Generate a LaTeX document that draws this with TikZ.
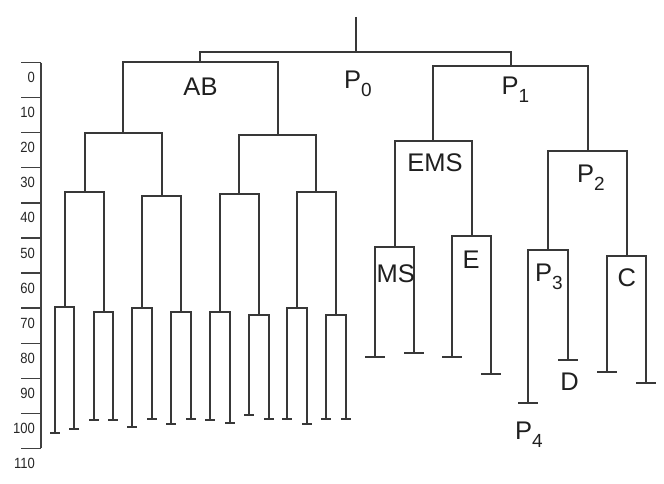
\documentclass[tikz,border=0pt]{standalone}
\usepackage{fontspec}
\setmainfont{Liberation Sans}
% lowered index after a cluster letter, e.g. P with a small 0 below the baseline
\newcommand{\lowsub}[1]{\raisebox{-8pt}{\fontsize{19}{20}\selectfont #1}}
% one merge: bar at the parent's height joining the two child stems
\newcommand{\merge}[3]{\draw[branch] (#2) -- (#2 |- #1) -- (#3 |- #1) -- (#3);}
% slightly narrowed digits for the scale
\newcommand{\narrow}[1]{\scalebox{0.88}[1]{#1}}
\begin{document}
\begin{tikzpicture}[x=1pt,y=-1pt,
  branch/.style={draw=black!78, line width=1.2pt},
  axisline/.style={draw=black!75, line width=1.2pt},
  lbl/.style={inner sep=0pt, font=\fontsize{25.5}{28}\selectfont, text=black!88},
  ticklabel/.style={inner sep=0pt, anchor=east, font=\fontsize{14.8}{16}\selectfont, text=black!85}]
\useasboundingbox (0,0) rectangle (664,484);

% ---- distance scale ----
\draw[axisline] (41,62.7) -- (41,448.3);
\foreach \k in {0,...,11}{
  \pgfmathsetmacro\yy{62.7+35.05*\k}
  \pgfmathtruncatemacro\val{10*\k}
  \draw[axisline] (21,\yy) -- (41,\yy);
  \node[ticklabel] (tick\val) at (35,\yy+15) {\narrow{\val}};
}

% ---- merge points ----
\coordinate (stem) at (356,17);
\coordinate (root) at (356,52);
\coordinate (AB)   at (200,62);
\coordinate (P1)   at (511,66);
\coordinate (A1)   at (123,133);
\coordinate (A2)   at (278,135);
\coordinate (a11)  at (85,192);
\coordinate (a12)  at (162,196);
\coordinate (a21)  at (239,194);
\coordinate (a22)  at (316,192);
\coordinate (b1) at (65,307);
\coordinate (b2) at (104,312);
\coordinate (b3) at (142,308);
\coordinate (b4) at (181,312);
\coordinate (b5) at (220,312);
\coordinate (b6) at (259,315);
\coordinate (b7) at (297,308);
\coordinate (b8) at (336,315);
\coordinate (EMS) at (433,141);
\coordinate (P2)  at (588,151);
\coordinate (MS)  at (395,247);
\coordinate (E)   at (472,236);
\coordinate (P3)  at (548,250);
\coordinate (C)   at (627,256);

% ---- leaves ----
\coordinate (l1)  at (55,433);
\coordinate (l2)  at (74,429);
\coordinate (l3)  at (94,420);
\coordinate (l4)  at (113,420);
\coordinate (l5)  at (132,427);
\coordinate (l6)  at (152,419);
\coordinate (l7)  at (171,424);
\coordinate (l8)  at (191,419);
\coordinate (l9)  at (210,420);
\coordinate (l10) at (230,423);
\coordinate (l11) at (249,415);
\coordinate (l12) at (269,419);
\coordinate (l13) at (287,419);
\coordinate (l14) at (307,424);
\coordinate (l15) at (326,419);
\coordinate (l16) at (346,419);
\coordinate (r1) at (375,357);
\coordinate (r2) at (414,353);
\coordinate (r3) at (452,357);
\coordinate (r4) at (491,374);
\coordinate (r5) at (528,403);
\coordinate (r6) at (568,360);
\coordinate (r7) at (607,372);
\coordinate (r8) at (646,383);

% ---- branches ----
\draw[branch] (stem) -- (root);
\merge{root}{AB}{P1}
\merge{AB}{A1}{A2}
\merge{A1}{a11}{a12}
\merge{A2}{a21}{a22}
\merge{a11}{b1}{b2}
\merge{a12}{b3}{b4}
\merge{a21}{b5}{b6}
\merge{a22}{b7}{b8}
\merge{b1}{l1}{l2}
\merge{b2}{l3}{l4}
\merge{b3}{l5}{l6}
\merge{b4}{l7}{l8}
\merge{b5}{l9}{l10}
\merge{b6}{l11}{l12}
\merge{b7}{l13}{l14}
\merge{b8}{l15}{l16}
\merge{P1}{EMS}{P2}
\merge{EMS}{MS}{E}
\merge{P2}{P3}{C}
\merge{MS}{r1}{r2}
\merge{E}{r3}{r4}
\merge{P3}{r5}{r6}
\merge{C}{r7}{r8}

% ---- leaf feet ----
\foreach \l in {l1,l2,l3,l4,l5,l6,l7,l8,l9,l10,l11,l12,l13,l14,l15,l16}
  \draw[branch] ([xshift=-5pt]\l) -- ([xshift=5pt]\l);
\foreach \r in {r1,r2,r3,r4,r5,r6,r7,r8}
  \draw[branch] ([xshift=-10pt]\r) -- ([xshift=10pt]\r);

% ---- cluster names ----
\node[lbl, anchor=base] (tAB) at (200.5,95.7) {AB};
\node[lbl, anchor=base west] (tP0) at (344,88.3) {P\lowsub{0}};
\node[lbl, anchor=base west] (tP1) at (501.5,95) {P\lowsub{1}};
\node[lbl, anchor=base] (tEMS) at (435,171.7) {EMS};
\node[lbl, anchor=base west] (tP2) at (577,182.7) {P\lowsub{2}};
\node[lbl, anchor=base] (tMS) at (395.7,282.3) {MS};
\node[lbl, anchor=base] (tE) at (471,268.3) {E};
\node[lbl, anchor=base west] (tP3) at (535,281.3) {P\lowsub{3}};
\node[lbl, anchor=base] (tC) at (626.8,286.3) {C};
\node[lbl, anchor=base] (tD) at (569.7,390) {D};
\node[lbl, anchor=base west] (tP4) at (515,439) {P\lowsub{4}};
\end{tikzpicture}
\end{document}
